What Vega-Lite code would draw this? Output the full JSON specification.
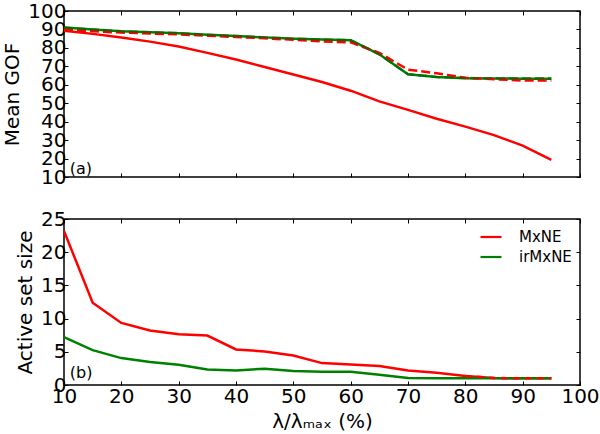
{
  "$schema": "https://vega.github.io/schema/vega-lite/v6.json",
  "padding": {"left": 2, "top": 0, "right": 5, "bottom": 0},
  "background": "white",
  "spacing": 20,
  "config": {
    "font": "DejaVu Sans",
    "view": {"stroke": "black", "strokeWidth": 1.5},
    "axis": {
      "domain": false, "grid": false, "tickColor": "black", "tickSize": -4, "tickWidth": 1,
      "labelColor": "black", "labelFont": "DejaVu Sans", "labelFontSize": 20,
      "titleFont": "DejaVu Sans", "titleFontSize": 20, "titleFontWeight": "normal", "titleColor": "black",
      "labelOverlap": false, "labelFlush": false
    }
  },
  "datasets": {
    "gof": [
      {"m": "MxNE", "s": "solid", "x": 10, "y": 89.3}, {"m": "MxNE", "s": "solid", "x": 15, "y": 87.6}, {"m": "MxNE", "s": "solid", "x": 20, "y": 85.6}, {"m": "MxNE", "s": "solid", "x": 25, "y": 83.4}, {"m": "MxNE", "s": "solid", "x": 30, "y": 80.7}, {"m": "MxNE", "s": "solid", "x": 35, "y": 77.3}, {"m": "MxNE", "s": "solid", "x": 40, "y": 73.7}, {"m": "MxNE", "s": "solid", "x": 45, "y": 69.6}, {"m": "MxNE", "s": "solid", "x": 50, "y": 65.6}, {"m": "MxNE", "s": "solid", "x": 55, "y": 61.5}, {"m": "MxNE", "s": "solid", "x": 60, "y": 56.8}, {"m": "MxNE", "s": "solid", "x": 65, "y": 51.0}, {"m": "MxNE", "s": "solid", "x": 70, "y": 46.4}, {"m": "MxNE", "s": "solid", "x": 75, "y": 41.6}, {"m": "MxNE", "s": "solid", "x": 80, "y": 37.3}, {"m": "MxNE", "s": "solid", "x": 85, "y": 32.7}, {"m": "MxNE", "s": "solid", "x": 90, "y": 27.0}, {"m": "MxNE", "s": "solid", "x": 95, "y": 19.3},
      {"m": "irMxNE", "s": "solid", "x": 10, "y": 91.0}, {"m": "irMxNE", "s": "solid", "x": 15, "y": 90.0}, {"m": "irMxNE", "s": "solid", "x": 20, "y": 89.0}, {"m": "irMxNE", "s": "solid", "x": 25, "y": 88.5}, {"m": "irMxNE", "s": "solid", "x": 30, "y": 88.0}, {"m": "irMxNE", "s": "solid", "x": 35, "y": 87.1}, {"m": "irMxNE", "s": "solid", "x": 40, "y": 86.4}, {"m": "irMxNE", "s": "solid", "x": 45, "y": 85.7}, {"m": "irMxNE", "s": "solid", "x": 50, "y": 85.0}, {"m": "irMxNE", "s": "solid", "x": 55, "y": 84.5}, {"m": "irMxNE", "s": "solid", "x": 60, "y": 84.2}, {"m": "irMxNE", "s": "solid", "x": 65, "y": 76.5}, {"m": "irMxNE", "s": "solid", "x": 70, "y": 65.7}, {"m": "irMxNE", "s": "solid", "x": 75, "y": 64.2}, {"m": "irMxNE", "s": "solid", "x": 80, "y": 63.6}, {"m": "irMxNE", "s": "solid", "x": 85, "y": 63.4}, {"m": "irMxNE", "s": "solid", "x": 90, "y": 63.3}, {"m": "irMxNE", "s": "solid", "x": 95, "y": 63.3},
      {"m": "MxNE", "s": "dashed", "x": 10, "y": 89.8}, {"m": "MxNE", "s": "dashed", "x": 15, "y": 89.0}, {"m": "MxNE", "s": "dashed", "x": 20, "y": 88.3}, {"m": "MxNE", "s": "dashed", "x": 25, "y": 87.8}, {"m": "MxNE", "s": "dashed", "x": 30, "y": 87.3}, {"m": "MxNE", "s": "dashed", "x": 35, "y": 86.6}, {"m": "MxNE", "s": "dashed", "x": 40, "y": 85.9}, {"m": "MxNE", "s": "dashed", "x": 45, "y": 85.2}, {"m": "MxNE", "s": "dashed", "x": 50, "y": 84.4}, {"m": "MxNE", "s": "dashed", "x": 55, "y": 83.5}, {"m": "MxNE", "s": "dashed", "x": 60, "y": 83.0}, {"m": "MxNE", "s": "dashed", "x": 65, "y": 77.3}, {"m": "MxNE", "s": "dashed", "x": 70, "y": 68.2}, {"m": "MxNE", "s": "dashed", "x": 75, "y": 66.2}, {"m": "MxNE", "s": "dashed", "x": 80, "y": 63.8}, {"m": "MxNE", "s": "dashed", "x": 85, "y": 63.0}, {"m": "MxNE", "s": "dashed", "x": 90, "y": 62.3}, {"m": "MxNE", "s": "dashed", "x": 95, "y": 62.3},
      {"m": "irMxNE", "s": "dashed", "x": 10, "y": 91.0}, {"m": "irMxNE", "s": "dashed", "x": 15, "y": 90.0}, {"m": "irMxNE", "s": "dashed", "x": 20, "y": 89.0}, {"m": "irMxNE", "s": "dashed", "x": 25, "y": 88.5}, {"m": "irMxNE", "s": "dashed", "x": 30, "y": 88.0}, {"m": "irMxNE", "s": "dashed", "x": 35, "y": 87.1}, {"m": "irMxNE", "s": "dashed", "x": 40, "y": 86.4}, {"m": "irMxNE", "s": "dashed", "x": 45, "y": 85.7}, {"m": "irMxNE", "s": "dashed", "x": 50, "y": 85.0}, {"m": "irMxNE", "s": "dashed", "x": 55, "y": 84.5}, {"m": "irMxNE", "s": "dashed", "x": 60, "y": 84.2}, {"m": "irMxNE", "s": "dashed", "x": 65, "y": 76.5}, {"m": "irMxNE", "s": "dashed", "x": 70, "y": 65.7}, {"m": "irMxNE", "s": "dashed", "x": 75, "y": 64.2}, {"m": "irMxNE", "s": "dashed", "x": 80, "y": 63.7}, {"m": "irMxNE", "s": "dashed", "x": 85, "y": 63.5}, {"m": "irMxNE", "s": "dashed", "x": 90, "y": 63.5}, {"m": "irMxNE", "s": "dashed", "x": 95, "y": 63.5}
    ],
    "size": [
      {"m": "MxNE", "s": "solid", "x": 10, "y": 23.2}, {"m": "MxNE", "s": "solid", "x": 15, "y": 12.4}, {"m": "MxNE", "s": "solid", "x": 20, "y": 9.35}, {"m": "MxNE", "s": "solid", "x": 25, "y": 8.2}, {"m": "MxNE", "s": "solid", "x": 30, "y": 7.65}, {"m": "MxNE", "s": "solid", "x": 35, "y": 7.45}, {"m": "MxNE", "s": "solid", "x": 40, "y": 5.35}, {"m": "MxNE", "s": "solid", "x": 45, "y": 5.05}, {"m": "MxNE", "s": "solid", "x": 50, "y": 4.45}, {"m": "MxNE", "s": "solid", "x": 55, "y": 3.3}, {"m": "MxNE", "s": "solid", "x": 60, "y": 3.1}, {"m": "MxNE", "s": "solid", "x": 65, "y": 2.85}, {"m": "MxNE", "s": "solid", "x": 70, "y": 2.2}, {"m": "MxNE", "s": "solid", "x": 75, "y": 1.85}, {"m": "MxNE", "s": "solid", "x": 80, "y": 1.35}, {"m": "MxNE", "s": "solid", "x": 85, "y": 1.05}, {"m": "MxNE", "s": "solid", "x": 90, "y": 1.0}, {"m": "MxNE", "s": "solid", "x": 95, "y": 1.0},
      {"m": "irMxNE", "s": "solid", "x": 10, "y": 7.2}, {"m": "irMxNE", "s": "solid", "x": 15, "y": 5.25}, {"m": "irMxNE", "s": "solid", "x": 20, "y": 4.05}, {"m": "irMxNE", "s": "solid", "x": 25, "y": 3.45}, {"m": "irMxNE", "s": "solid", "x": 30, "y": 3.05}, {"m": "irMxNE", "s": "solid", "x": 35, "y": 2.35}, {"m": "irMxNE", "s": "solid", "x": 40, "y": 2.2}, {"m": "irMxNE", "s": "solid", "x": 45, "y": 2.45}, {"m": "irMxNE", "s": "solid", "x": 50, "y": 2.1}, {"m": "irMxNE", "s": "solid", "x": 55, "y": 2.0}, {"m": "irMxNE", "s": "solid", "x": 60, "y": 2.0}, {"m": "irMxNE", "s": "solid", "x": 65, "y": 1.55}, {"m": "irMxNE", "s": "solid", "x": 70, "y": 1.05}, {"m": "irMxNE", "s": "solid", "x": 75, "y": 1.0}, {"m": "irMxNE", "s": "solid", "x": 80, "y": 1.0}, {"m": "irMxNE", "s": "solid", "x": 85, "y": 1.0}, {"m": "irMxNE", "s": "solid", "x": 90, "y": 1.0}, {"m": "irMxNE", "s": "solid", "x": 95, "y": 1.0},
      {"m": "MxNE", "s": "dashed", "x": 80, "y": 1.35}, {"m": "MxNE", "s": "dashed", "x": 85, "y": 1.05}, {"m": "MxNE", "s": "dashed", "x": 90, "y": 1.0}, {"m": "MxNE", "s": "dashed", "x": 95, "y": 1.0}
    ]
  },
  "vconcat": [
    {
      "width": 516, "height": 166,
      "resolve": {"axis": {"x": "independent", "y": "independent"}},
      "layer": [
        {
          "data": {"name": "gof"},
          "transform": [{"filter": "datum.m == 'MxNE' && datum.s == 'solid'"}],
          "mark": {"type": "line", "color": "#ff0000", "strokeWidth": 2.5},
          "encoding": {
            "x": {"field": "x", "type": "quantitative", "scale": {"domain": [10, 100], "nice": false}, "axis": {"orient": "bottom", "values": [10, 20, 30, 40, 50, 60, 70, 80, 90, 100], "labels": false, "title": null}},
            "y": {"field": "y", "type": "quantitative", "scale": {"domain": [10, 100], "nice": false, "zero": false}, "axis": {"orient": "left", "values": [10, 20, 30, 40, 50, 60, 70, 80, 90, 100], "title": "Mean GOF", "labelPadding": 2, "titlePadding": 5}}
          }
        },
        {
          "data": {"name": "gof"},
          "transform": [{"filter": "datum.m == 'irMxNE' && datum.s == 'solid'"}],
          "mark": {"type": "line", "color": "#008000", "strokeWidth": 2.5},
          "encoding": {
            "x": {"field": "x", "type": "quantitative", "axis": {"orient": "top", "values": [10, 20, 30, 40, 50, 60, 70, 80, 90, 100], "labels": false, "title": null}},
            "y": {"field": "y", "type": "quantitative", "axis": {"orient": "right", "values": [10, 20, 30, 40, 50, 60, 70, 80, 90, 100], "labels": false, "title": null}}
          }
        },
        {
          "data": {"name": "gof"},
          "transform": [{"filter": "datum.m == 'MxNE' && datum.s == 'dashed'"}],
          "mark": {"type": "line", "color": "#ff0000", "strokeWidth": 2.5, "strokeDash": [9, 4]},
          "encoding": {
            "x": {"field": "x", "type": "quantitative", "axis": null},
            "y": {"field": "y", "type": "quantitative", "axis": null}
          }
        },
        {
          "data": {"name": "gof"},
          "transform": [{"filter": "datum.m == 'irMxNE' && datum.s == 'dashed'"}],
          "mark": {"type": "line", "color": "#006400", "strokeWidth": 2.5, "strokeDash": [9, 4], "opacity": 0.6},
          "encoding": {
            "x": {"field": "x", "type": "quantitative", "axis": null},
            "y": {"field": "y", "type": "quantitative", "axis": null}
          }
        },
        {
          "data": {"values": [{"x": 11, "y": 14.4, "t": "(a)"}]},
          "mark": {"type": "text", "align": "left", "baseline": "middle", "fontSize": 16, "color": "black"},
          "encoding": {
            "x": {"field": "x", "type": "quantitative", "axis": null},
            "y": {"field": "y", "type": "quantitative", "axis": null},
            "text": {"field": "t"}
          }
        }
      ]
    },
    {
      "width": 516, "height": 166,
      "resolve": {"axis": {"x": "independent", "y": "independent"}},
      "layer": [
        {
          "data": {"name": "size"},
          "transform": [{"filter": "datum.m == 'MxNE' && datum.s == 'solid'"}],
          "mark": {"type": "line", "strokeWidth": 2.5},
          "encoding": {
            "x": {"field": "x", "type": "quantitative", "scale": {"domain": [10, 100], "nice": false}, "axis": {"orient": "bottom", "values": [10, 20, 30, 40, 50, 60, 70, 80, 90, 100], "title": "λ/λₘₐₓ (%)", "labelPadding": 5, "titlePadding": 5}},
            "y": {"field": "y", "type": "quantitative", "scale": {"domain": [0, 25], "nice": false}, "axis": {"orient": "left", "values": [0, 5, 10, 15, 20, 25], "title": "Active set size", "labelPadding": 2, "titlePadding": 5}},
            "color": {"field": "m", "type": "nominal", "scale": {"domain": ["MxNE", "irMxNE"], "range": ["#ff0000", "#008000"]},
              "legend": {"title": null, "orient": "none", "legendX": 415, "legendY": 214, "padding": 0, "symbolType": "stroke", "symbolSize": 441, "symbolStrokeWidth": 2.2, "labelFontSize": 15, "labelFont": "DejaVu Sans", "labelColor": "black", "labelOffset": 16, "rowPadding": 0}}
          }
        },
        {
          "data": {"name": "size"},
          "transform": [{"filter": "datum.m == 'irMxNE' && datum.s == 'solid'"}],
          "mark": {"type": "line", "strokeWidth": 2.5},
          "encoding": {
            "x": {"field": "x", "type": "quantitative", "axis": {"orient": "top", "values": [10, 20, 30, 40, 50, 60, 70, 80, 90, 100], "labels": false, "title": null}},
            "y": {"field": "y", "type": "quantitative", "axis": {"orient": "right", "values": [0, 5, 10, 15, 20, 25], "labels": false, "title": null}},
            "color": {"field": "m", "type": "nominal"}
          }
        },
        {
          "data": {"name": "size"},
          "transform": [{"filter": "datum.m == 'MxNE' && datum.s == 'dashed'"}],
          "mark": {"type": "line", "strokeWidth": 2.5, "strokeDash": [6, 6]},
          "encoding": {
            "x": {"field": "x", "type": "quantitative", "axis": null},
            "y": {"field": "y", "type": "quantitative", "axis": null},
            "color": {"field": "m", "type": "nominal"}
          }
        },
        {
          "data": {"values": [{"x": 11, "y": 1.85, "t": "(b)"}]},
          "mark": {"type": "text", "align": "left", "baseline": "middle", "fontSize": 16, "color": "black"},
          "encoding": {
            "x": {"field": "x", "type": "quantitative", "axis": null},
            "y": {"field": "y", "type": "quantitative", "axis": null},
            "text": {"field": "t"}
          }
        }
      ]
    }
  ]
}
